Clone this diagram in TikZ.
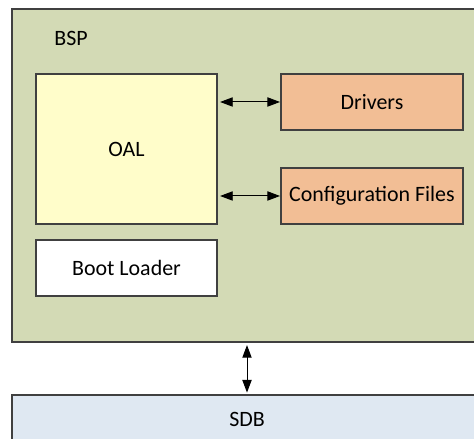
\documentclass[tikz,border=0pt]{standalone}
\usepackage{fontspec}
\setmainfont{Carlito}
\usepackage{tikz}
\usetikzlibrary{arrows.meta}

\definecolor{bspgreen}{HTML}{D3DAB5}
\definecolor{oalyellow}{HTML}{FFFDCA}
\definecolor{drvorange}{HTML}{F2BE95}
\definecolor{sdbblue}{HTML}{DFE8F2}
\definecolor{edgegray}{HTML}{404040}

\tikzset{
    blk/.style={draw=edgegray, line width=1.4pt, rectangle, inner sep=0pt,
        font=\fontsize{15.6}{18}\selectfont},
    link/.style={{Triangle[length=9pt,width=6.6pt]}-{Triangle[length=9pt,width=6.6pt]}, line width=0.7pt, black}
}

\begin{document}
\begin{tikzpicture}
            \useasboundingbox (0, 0) rectangle (11.85, 10.975);

            \node[blk, fill=bspgreen, minimum width=11.75cm, minimum height=8.325cm] at (6.175, 6.5875) (bsp) {};
            \node[font=\fontsize{15.6}{18}\selectfont] at (1.775, 10.025) (bsplabel) {BSP};

            \node[blk, fill=oalyellow, minimum width=4.525cm, minimum height=3.75cm] at (3.1625, 7.25)  (oal) {OAL};
            \node[blk, fill=drvorange, minimum width=4.55cm, minimum height=1.4cm] at (9.3, 8.425)     (drv) {Drivers};
            \node[blk, fill=drvorange, minimum width=4.55cm, minimum height=1.4cm] at (9.3, 6.075)     (cfg) {Configuration Files};
            \node[blk, fill=white, minimum width=4.525cm, minimum height=1.4cm] at (3.1625, 4.275)     (boot) {Boot Loader};

            \node[blk, fill=sdbblue, minimum width=11.75cm, minimum height=1.2cm] at (6.175, 0.5)    (sdb) {};
            \node[font=\fontsize{15.6}{18}\selectfont] at (6.175, 0.5) (sdblabel) {SDB};

            \draw [link, shorten <=1.5pt] (oal.east |- drv) -- (drv.west);
            \draw [link, shorten <=1.5pt] (oal.east |- cfg) -- (cfg.west);
            \draw [link, shorten <=1.5pt, shorten >=1pt] (bsp.south) -- (sdb.north);
        \end{tikzpicture}
\end{document}
